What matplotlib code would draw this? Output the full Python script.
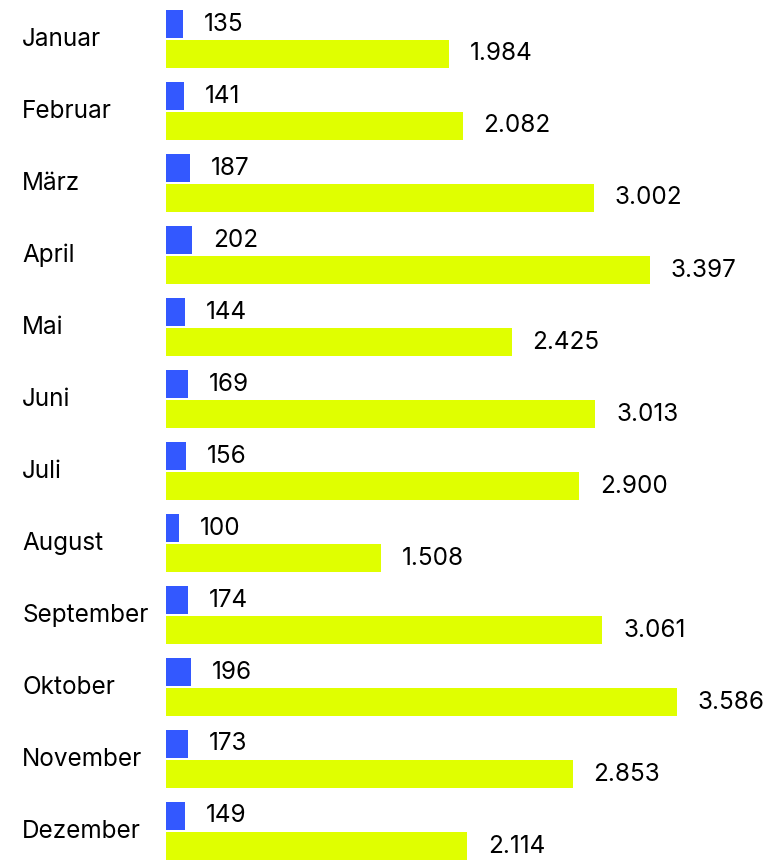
import matplotlib
matplotlib.use("Agg")
import matplotlib.pyplot as plt
import matplotlib.transforms as mtransforms
import numpy as np

months = ["Januar", "Februar", "März", "April", "Mai", "Juni", "Juli", "August",
          "September", "Oktober", "November", "Dezember"]
series_blue = [135, 141, 187, 202, 144, 169, 156, 100, 174, 196, 173, 149]
series_yellow = [1984, 2082, 3002, 3397, 2425, 3013, 2900, 1508, 3061, 3586, 2853, 2114]

BLUE = "#3358FF"
YELLOW = "#E0FF00"

plt.rcParams["font.family"] = ["Inter", "DejaVu Sans"]

W, H = 766, 863
fig = plt.figure(figsize=(W / 100, H / 100), dpi=100)
left_px = 166
rect = [left_px / W, 0, (W - left_px) / W, 1]
ax = fig.add_axes(rect)
ax.set_axis_off()
ax2 = ax.twiny()
ax2.set_axis_off()

px_yellow = 0.1425
px_blue = 0.129
ax.set_xlim(0, (W - left_px) / px_yellow)
ax2.set_xlim(0, (W - left_px) / px_blue)
for a in (ax, ax2):
    a.set_ylim((H - 39) / 72, -39 / 72)

idx = np.arange(len(months))
off = 15 / 72
h = 28 / 72
ax2.barh(idx - off, series_blue, height=h, color=BLUE, align="center")
ax.barh(idx + off, series_yellow, height=h, color=YELLOW, align="center")

def fmt(v):
    return f"{v:,}".replace(",", ".")

fs = 17.5
tc = "#000000"
for i in idx:
    ax2.annotate(fmt(series_blue[i]), (series_blue[i], i - off), xytext=(15, 0),
                 textcoords="offset points", ha="left", va="center", fontsize=fs, color=tc)
    ax.annotate(fmt(series_yellow[i]), (series_yellow[i], i + off), xytext=(15, 0),
                textcoords="offset points", ha="left", va="center", fontsize=fs, color=tc)

trans = mtransforms.blended_transform_factory(fig.transFigure, ax.transData)
for i, m in enumerate(months):
    ax.text(22 / W, i, m, transform=trans, ha="left", va="center", fontsize=fs, color=tc)

fig.savefig("out.png", dpi=100)
